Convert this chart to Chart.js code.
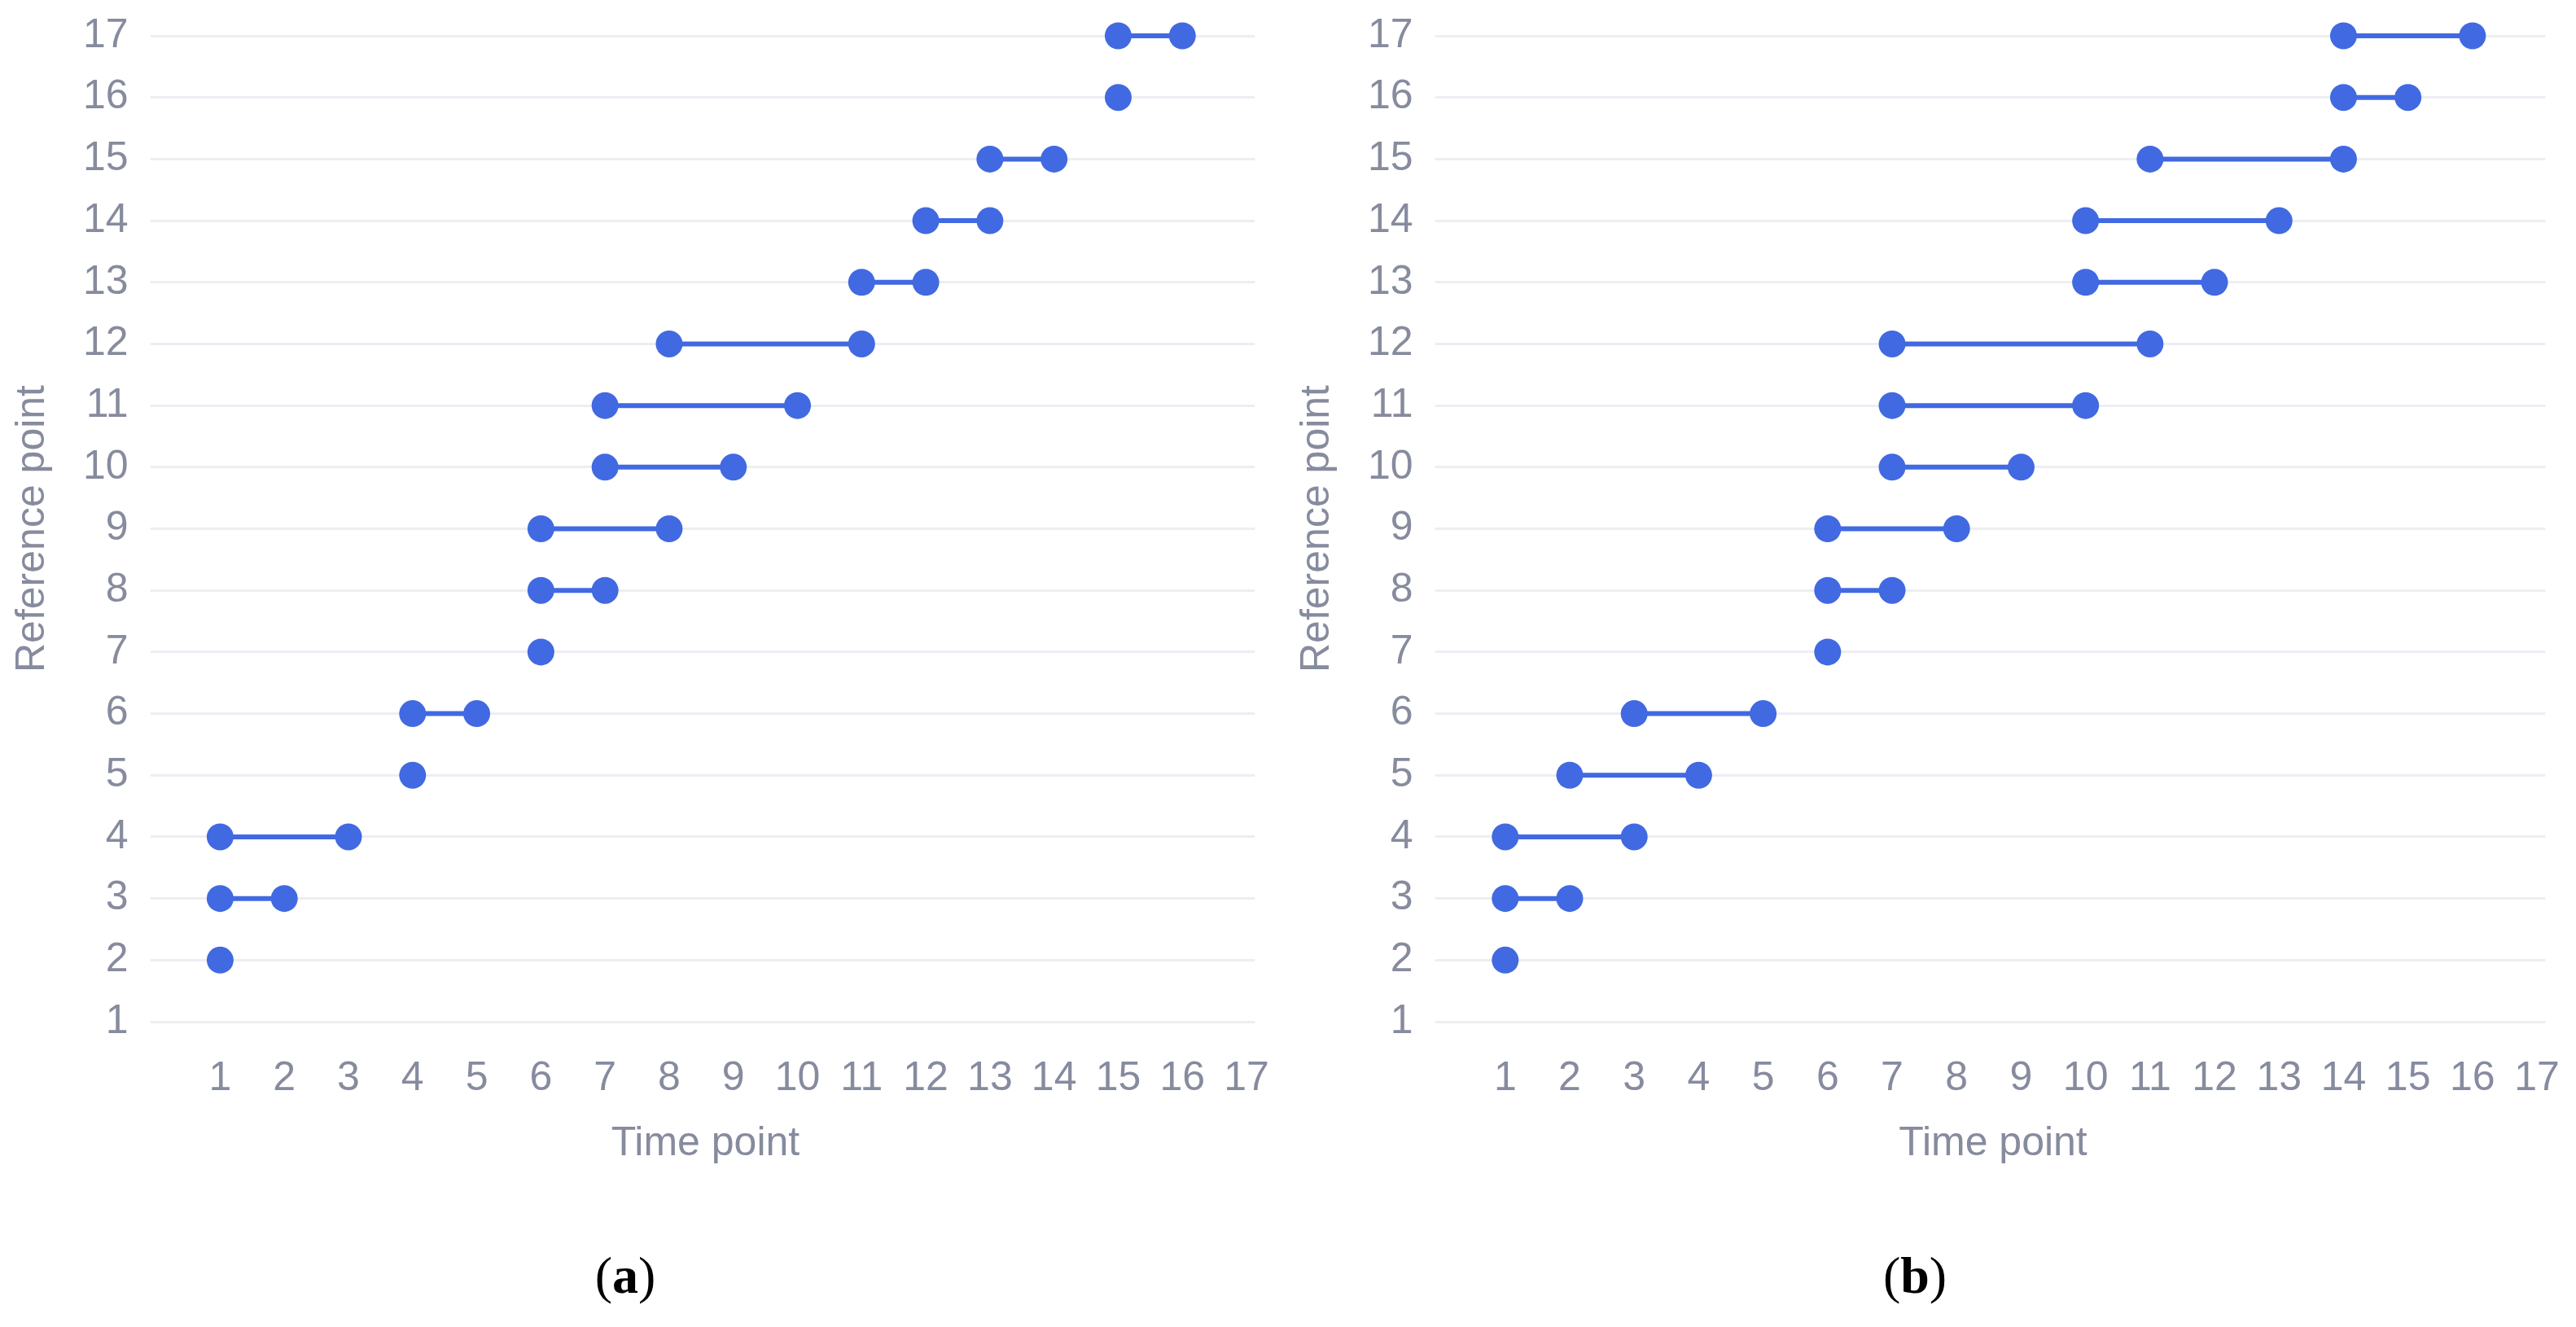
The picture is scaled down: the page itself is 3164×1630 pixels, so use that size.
<!DOCTYPE html>
<html>
<head>
<meta charset="utf-8">
<script src="https://cdn.jsdelivr.net/npm/chart.js@4.4.1/dist/chart.umd.min.js"></script>
<style>
    html, body { margin: 0; padding: 0; background: #fff; }
    body { width: 3164px; height: 1630px; position: relative; overflow: hidden; }
    .panel { position: absolute; top: -13px; height: 1452px; }
    #panel-a { left: 0; width: 1591px; }
    #panel-b { left: 1578px; width: 1598px; }
    .caption {
        position: absolute; top: 1530px; width: 200px; text-align: center;
        font-family: "Liberation Serif", "DejaVu Serif", serif; font-size: 64px; color: #000;
    }
    .caption b { font-weight: bold; }
</style>
</head>
<body>
<div class="panel" id="panel-a"><canvas id="chart-a"></canvas></div>
<div class="panel" id="panel-b"><canvas id="chart-b"></canvas></div>
<div class="caption" style="left: 668px;">(<b>a</b>)</div>
<div class="caption" style="left: 2252px;">(<b>b</b>)</div>

<script>
// reference point on the y axis, one row per entry
const refPoints = [2, 3, 4, 5, 6, 7, 8, 9, 10, 11, 12, 13, 14, 15, 16, 17];

// (a) first and last time point for each reference point
const startA = [1, 1, 1, 4, 4, 6, 6, 6, 7, 7, 8, 11, 12, 13, 15, 15];
const endA   = [1, 2, 3, 4, 5, 6, 7, 8, 9, 10, 11, 12, 13, 14, 15, 16];

// (b)
const startB = [1, 1, 1, 2, 3, 6, 6, 6, 7, 7, 7, 10, 10, 11, 14, 14];
const endB   = [1, 2, 3, 4, 5, 6, 7, 8, 9, 10, 11, 12, 13, 14, 15, 16];

// tick labels
const timeTicks = [1, 2, 3, 4, 5, 6, 7, 8, 9, 10, 11, 12, 13, 14, 15, 16, 17];
const refTicks  = [1, 2, 3, 4, 5, 6, 7, 8, 9, 10, 11, 12, 13, 14, 15, 16, 17];

const blue = '#4169e1';
const textGray = '#868b9e';
const gridGray = '#eceef3';
const font = { family: '"Liberation Sans", Arial, sans-serif', size: 50 };

function buildDatasets(starts, ends) {
    return refPoints.map((ref, i) => {
        const pts = [{ x: starts[i], y: ref }];
        if (ends[i] !== starts[i]) {
            pts.push({ x: ends[i], y: ref });
        }
        return {
            data: pts,
            showLine: true,
            clip: false,
            borderColor: blue,
            borderWidth: 6,
            backgroundColor: blue,
            pointBackgroundColor: blue,
            pointBorderWidth: 0,
            pointRadius: 16.5,
            pointHoverRadius: 16.5
        };
    });
}

function makeChart(canvasId, starts, ends) {
    const ctx = document.getElementById(canvasId);
    new Chart(ctx, {
        type: 'scatter',
        data: { datasets: buildDatasets(starts, ends) },
        options: {
            responsive: true,
            maintainAspectRatio: false,
            animation: false,
            layout: { padding: { top: 0, left: 10, right: 20, bottom: 0 } },
            plugins: {
                legend: { display: false },
                tooltip: { enabled: false }
            },
            scales: {
                x: {
                    type: 'linear',
                    min: 0,
                    max: 17.13, // a little room past the last tick, as in the original
                    grid: { display: false },
                    border: { display: false },
                    afterBuildTicks: axis => {
                        axis.ticks = timeTicks.map(v => ({ value: v }));
                    },
                    ticks: {
                        color: textGray,
                        font: font,
                        padding: 32,
                        maxRotation: 0,
                        autoSkip: false
                    },
                    title: {
                        display: true,
                        text: 'Time point',
                        color: textGray,
                        font: font,
                        padding: { top: -12, bottom: 4 }
                    }
                },
                y: {
                    type: 'linear',
                    min: refTicks[0],
                    max: refTicks[refTicks.length - 1],
                    grid: { color: gridGray, lineWidth: 3, tickLength: 7 },
                    border: { display: false },
                    afterBuildTicks: axis => {
                        axis.ticks = refTicks.map(v => ({ value: v }));
                    },
                    ticks: {
                        color: textGray,
                        font: font,
                        padding: 27,
                        autoSkip: false
                    },
                    title: {
                        display: true,
                        text: 'Reference point',
                        color: textGray,
                        font: font,
                        padding: { top: 0, bottom: 5 }
                    }
                }
            }
        }
    });
}

makeChart('chart-a', startA, endA);
makeChart('chart-b', startB, endB);
</script>
</body>
</html>
